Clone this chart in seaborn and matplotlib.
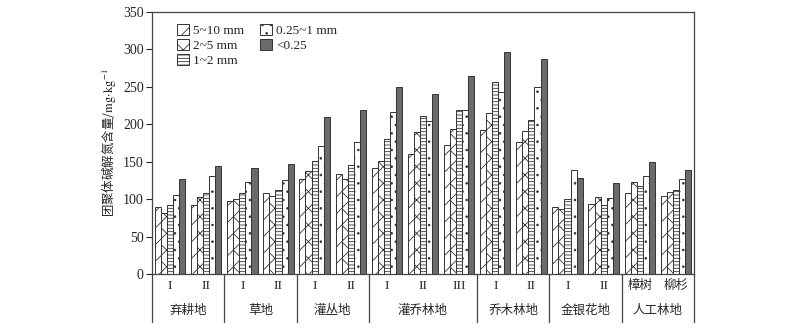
import numpy as np
import pandas as pd
import matplotlib
matplotlib.use('Agg')
import matplotlib.pyplot as plt
import seaborn as sns
from matplotlib.transforms import blended_transform_factory

# ---------------- data ----------------
sites = ['弃耕地', '草地', '灌丛地', '灌乔林地', '乔木林地', '金银花地', '人工林地']
group_sizes = [2, 2, 2, 3, 2, 2, 2]
sub_labels = ['I', 'II', 'I', 'II', 'I', 'II', 'I', 'II', 'III', 'I', 'II', 'I', 'II', '樟树', '柳杉']
sizes = ['5~10 mm', '2~5 mm', '1~2 mm', '0.25~1 mm', '<0.25']

v_5_10 = [89, 91.5, 98, 108.5, 127, 133, 141.5, 160.5, 172, 192.5, 176, 89.5, 93, 108.5, 104.5]
v_2_5 = [81, 103, 100, 104.5, 137, 127, 151, 189, 194, 214.5, 191, 86.5, 103, 123, 109.5]
v_1_2 = [92, 108.5, 108, 112, 150.5, 145.5, 180, 211, 219, 256, 206, 100, 92, 117.5, 112]
v_025_1 = [106, 131.5, 123.5, 125.5, 171, 176, 216.5, 205, 218.5, 243, 250, 138.5, 102, 131, 127]
v_lt025 = [127, 144.5, 142, 146.5, 210, 219, 250, 240, 265, 297, 286.5, 128.5, 122, 149.5, 138.5]
series = [v_5_10, v_2_5, v_1_2, v_025_1, v_lt025]

ids = [f'S{i}' for i in range(len(sub_labels))]
rows = []
for s, vals in zip(sizes, series):
    for i, v in zip(ids, vals):
        rows.append({'sub': i, 'size': s, 'val': v})
df = pd.DataFrame(rows)

# ---------------- style ----------------
sns.set_style('ticks')
plt.rcParams['font.family'] = ['Liberation Serif', 'Noto Sans CJK SC', 'DejaVu Sans']
plt.rcParams['mathtext.fontset'] = 'stix'
plt.rcParams['hatch.linewidth'] = 0.6
plt.rcParams['hatch.color'] = '#333333'

fig = plt.figure(figsize=(8.0, 3.28), dpi=100)
ax = fig.add_axes([0.19, 0.1646, 0.6775, 0.799])

palette = ['white', 'white', 'white', 'white', '#6b6b6b']
sns.barplot(data=df, x='sub', y='val', hue='size', order=ids, hue_order=sizes,
            palette=palette, saturation=1, width=0.84, gap=0, ax=ax,
            edgecolor='#333333', linewidth=0.7, legend=False)

hatches = ['//', 'xx', '-----', '..', '']
for cont, h in zip(ax.containers, hatches):
    for p in cont.patches:
        p.set_hatch(h)

# legend
handles = [cont.patches[0] for cont in ax.containers]
leg = ax.legend(handles, sizes, loc='upper left', bbox_to_anchor=(0.025, 1.0),
                ncol=2, frameon=False, fontsize=9.5, handlelength=0.9,
                handleheight=0.9, handletextpad=0.3, labelspacing=0.15,
                columnspacing=1.2)

ax.set_ylim(0, 350)
ax.set_yticks(np.arange(0, 351, 50))
ax.set_xlim(-0.5, len(ids) - 0.5)
ax.set_xticks([])
ax.set_xlabel('')
ax.set_ylabel('团聚体碱解氮含量/$\\mathrm{mg{\\cdot}kg^{-1}}$',
              family=['Noto Sans CJK SC', 'DejaVu Sans'],
              fontsize=9, labelpad=3)
ax.tick_params(axis='y', direction='out', length=4, width=0.8, labelsize=10, pad=2)
for sp in ax.spines.values():
    sp.set_visible(True)
    sp.set_linewidth(0.9)
    sp.set_color('#444444')

# category table below axis
trans = blended_transform_factory(ax.transData, ax.transAxes)
bottom = -0.183
bounds = [-0.5]
pos = -0.5
for g in group_sizes:
    pos += g
    bounds.append(pos)
for b in bounds:
    ax.plot([b, b], [0, bottom], transform=trans, color='#444444', lw=0.9,
            clip_on=False)

for i, lab in enumerate(sub_labels):
    fam = ['Noto Sans CJK SC'] if lab in ('樟树', '柳杉') else ['Liberation Serif']
    ax.text(i, -0.045, lab, transform=trans, ha='center', va='center',
            fontsize=9 if lab in ('樟树', '柳杉') else 9.5, family=fam)

start = 0
for name, g in zip(sites, group_sizes):
    cx = start + (g - 1) / 2
    ax.text(cx, -0.14, name, transform=trans, ha='center', va='center',
            fontsize=9, family=['Noto Sans CJK SC'])
    start += g

fig.savefig('out.png', dpi=100)
